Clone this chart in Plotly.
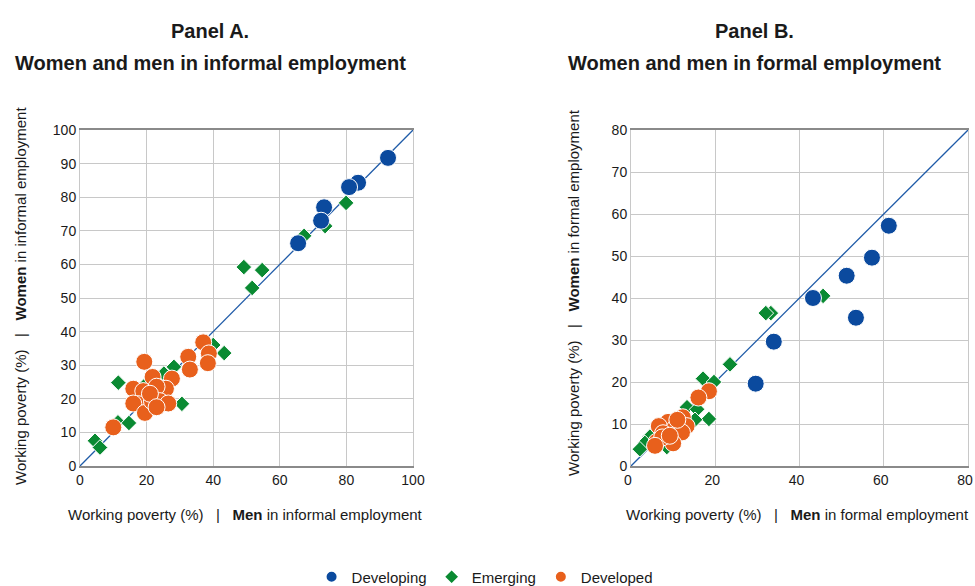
import plotly.graph_objects as go

# ---------------- data ----------------
# Panel A: informal employment (x = men, y = women)
a_dev_x = [92.5, 83.5, 80.8, 73.3, 72.4, 65.5]
a_dev_y = [91.7, 84.3, 83.0, 77.0, 73.0, 66.3]

a_emg_x = [79.9, 73.6, 67.3, 49.2, 54.7, 51.7, 43.3, 40.0, 30.6, 11.5, 28.2, 25.2, 19.5, 11.4, 14.7, 4.5, 6.0, 24.0]
a_emg_y = [78.3, 71.4, 68.5, 59.2, 58.3, 53.0, 33.6, 36.0, 18.5, 24.8, 29.5, 27.5, 24.0, 13.0, 12.8, 7.5, 5.5, 21.7]

a_dvd_x = [37.0, 38.7, 38.4, 32.5, 33.0, 19.3, 27.6, 21.8, 16.0, 25.8, 23.0, 19.0, 17.5, 16.0, 19.5, 21.6, 24.0, 26.5, 21.0, 10.0, 23.0]
a_dvd_y = [36.8, 33.5, 30.6, 32.5, 28.7, 31.0, 26.0, 26.5, 23.0, 23.0, 23.6, 22.3, 18.4, 18.6, 15.8, 19.3, 19.3, 18.6, 21.5, 11.5, 17.5]

# Panel B: formal employment (x = men, y = women)
b_dev_x = [61.2, 57.2, 51.2, 43.2, 53.4, 33.9, 29.6]
b_dev_y = [57.2, 49.6, 45.3, 40.0, 35.3, 29.6, 19.6]

b_emg_x = [45.6, 33.2, 32.0, 23.5, 17.1, 19.7, 13.3, 15.7, 18.5, 15.2, 4.5, 3.3, 2.1, 8.5, 10.5]
b_emg_y = [40.5, 36.4, 36.4, 24.2, 20.8, 20.0, 14.0, 13.5, 11.2, 11.0, 7.0, 5.5, 4.0, 4.5, 9.0]

b_dvd_x = [18.5, 16.0, 12.3, 8.8, 6.6, 10.4, 13.2, 7.6, 12.1, 6.1, 10.0, 7.4, 9.2, 5.7, 11.0]
b_dvd_y = [17.8, 16.3, 11.6, 10.5, 9.5, 9.0, 9.5, 7.8, 8.0, 5.8, 5.4, 6.8, 7.2, 4.8, 11.0]

a_range = [0, 100]
b_range = [0, 80]
a_xticks = [0, 20, 40, 60, 80, 100]
a_yticks = [0, 10, 20, 30, 40, 50, 60, 70, 80, 90, 100]
b_xticks = [0, 20, 40, 60, 80]
b_yticks = [0, 10, 20, 30, 40, 50, 60, 70, 80]

groups = ["Developing", "Emerging", "Developed"]

# ---------------- style ----------------
FONT = "Liberation Sans, Arial, sans-serif"
BLUE = "#0B4A9E"
GREEN = "#0A8A32"
ORANGE = "#E8601C"
LINE = "#1F5BA8"
TXT = "#1a1a1a"

fig = go.Figure()

def add_panel(xa, ya, rng, dev, emg, dvd, show):
    # 45-degree reference line
    fig.add_trace(go.Scatter(x=rng, y=rng, mode="lines", line=dict(color=LINE, width=1.3),
                             showlegend=False, hoverinfo="skip", xaxis=xa, yaxis=ya))
    fig.add_trace(go.Scatter(x=emg[0], y=emg[1], mode="markers", name=groups[1],
                             marker=dict(symbol="diamond", size=12, color=GREEN,
                                         line=dict(color="white", width=1)),
                             legendrank=2, showlegend=show, xaxis=xa, yaxis=ya))
    fig.add_trace(go.Scatter(x=dev[0], y=dev[1], mode="markers", name=groups[0],
                             marker=dict(symbol="circle", size=17, color=BLUE,
                                         line=dict(color="white", width=1)),
                             legendrank=1, showlegend=show, xaxis=xa, yaxis=ya))
    fig.add_trace(go.Scatter(x=dvd[0], y=dvd[1], mode="markers", name=groups[2],
                             marker=dict(symbol="circle", size=17, color=ORANGE,
                                         line=dict(color="white", width=1)),
                             legendrank=3, showlegend=show, xaxis=xa, yaxis=ya))

add_panel("x", "y", a_range, (a_dev_x, a_dev_y), (a_emg_x, a_emg_y), (a_dvd_x, a_dvd_y), True)
add_panel("x2", "y2", b_range, (b_dev_x, b_dev_y), (b_emg_x, b_emg_y), (b_dvd_x, b_dvd_y), False)

W, H = 975, 586
def px(v): return v / W
def py(v): return 1 - v / H

ydom = [py(466), py(130)]
xaxis_common = dict(showgrid=True, gridcolor="#c8c8c8", gridwidth=1, zeroline=False,
                    showline=True, linecolor="#8a8a8a", linewidth=1.5, mirror=True,
                    ticks="", ticklabeloverflow="allow",
                    tickfont=dict(family=FONT, size=14, color=TXT), fixedrange=True)
yaxis_common = dict(showgrid=True, gridcolor="#c8c8c8", gridwidth=1, zeroline=False,
                    showline=True, linecolor="#c8c8c8", linewidth=1, mirror=True,
                    ticks="", ticklabeloverflow="allow",
                    tickfont=dict(family=FONT, size=14, color=TXT), fixedrange=True)

fig.update_layout(
    width=W, height=H,
    margin=dict(l=0, r=0, t=0, b=0, autoexpand=False),
    paper_bgcolor="white", plot_bgcolor="white",
    font=dict(family=FONT, color=TXT),
    xaxis=dict(domain=[px(80), px(413)], range=a_range, tickvals=a_xticks, anchor="y", **xaxis_common),
    yaxis=dict(domain=ydom, range=a_range, tickvals=a_yticks, anchor="x", **yaxis_common),
    xaxis2=dict(domain=[px(631), px(968)], range=b_range, tickvals=b_xticks, anchor="y2",
                ticklabelshift=-3, **xaxis_common),
    yaxis2=dict(domain=ydom, range=b_range, tickvals=b_yticks, anchor="x2", **yaxis_common),
    legend=dict(orientation="h", x=0.497, xanchor="center", y=py(577), yanchor="middle",
                font=dict(family=FONT, size=15, color=TXT), itemsizing="constant",
                bgcolor="rgba(0,0,0,0)", tracegroupgap=0),
    showlegend=True,
)

ann = []
ttl = dict(family=FONT, size=20, color=TXT)
ann.append(dict(text="<b>Panel A.</b>", x=px(210), y=py(31), xref="paper", yref="paper",
                showarrow=False, font=ttl, xanchor="center", yanchor="middle"))
ann.append(dict(text="<b>Women and men in informal employment</b>", x=px(210), y=py(63), xref="paper",
                yref="paper", showarrow=False, font=ttl, xanchor="center", yanchor="middle"))
ann.append(dict(text="<b>Panel B.</b>", x=px(754), y=py(31), xref="paper", yref="paper",
                showarrow=False, font=ttl, xanchor="center", yanchor="middle"))
ann.append(dict(text="<b>Women and men in formal employment</b>", x=px(754), y=py(63), xref="paper",
                yref="paper", showarrow=False, font=ttl, xanchor="center", yanchor="middle"))

axf = dict(family=FONT, size=15, color=TXT)
ann.append(dict(text="Working poverty (%)   |   <b>Men</b> in informal employment", x=px(246), y=py(514),
                xref="paper", yref="paper", showarrow=False, font=axf, xanchor="center", yanchor="middle"))
ann.append(dict(text="Working poverty (%)   |   <b>Men</b> in formal employment", x=px(797), y=py(514),
                xref="paper", yref="paper", showarrow=False, font=axf, xanchor="center", yanchor="middle"))
ann.append(dict(text="Working poverty (%)   |   <b>Women</b> in informal employment", x=px(20), y=py(296),
                xref="paper", yref="paper", showarrow=False, font=axf, textangle=-90,
                xanchor="center", yanchor="middle"))
ann.append(dict(text="Working poverty (%)   |   <b>Women</b> in formal employment", x=px(573), y=py(293),
                xref="paper", yref="paper", showarrow=False, font=axf, textangle=-90,
                xanchor="center", yanchor="middle"))
fig.update_layout(annotations=ann)

fig.write_html("out.html", config={"displayModeBar": False},
               post_script="document.body.style.margin='0';document.body.style.overflow='hidden';")
